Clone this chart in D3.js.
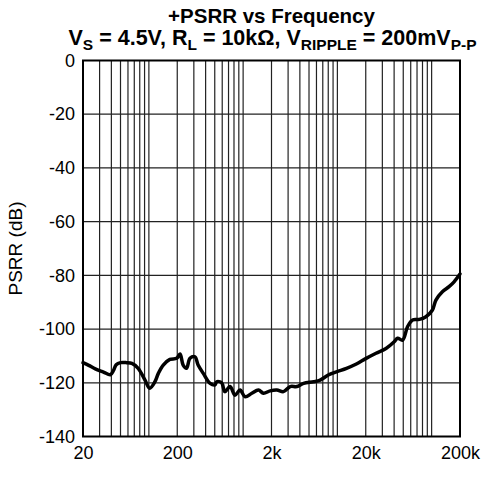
<!DOCTYPE html>
<html>
<head>
<meta charset="utf-8">
<script src="https://cdn.jsdelivr.net/npm/d3@7"></script>
<style>
  body { margin: 0; background: #fff; }
  svg text { font-family: "Liberation Sans", Arial, sans-serif; }
</style>
</head>
<body>
<script>
// values
const freqs = [20, 23, 27, 33, 39, 42, 45, 50, 58, 66, 77, 91, 102, 116, 126, 142, 167, 197, 214, 231,
  251, 273, 308, 333, 378, 446, 503, 524, 591, 640, 727, 820, 927, 1050, 1236, 1453, 1643, 1936, 2280,
  2680, 3160, 3720, 4380, 5610, 6560, 8000, 9800, 12500, 15900, 20200, 25700, 32800, 40100, 43500,
  49200, 55600, 62800, 74000, 87000, 102000, 111000, 130000, 153000, 173000, 200000];
const psrr = [-112.5, -113.5, -114.8, -116, -117, -115.5, -113.3, -112.5, -112.5, -112.8, -114.6, -119,
  -122, -119.6, -116.5, -113.4, -111.3, -110.9, -109.3, -113.4, -114.6, -110.9, -110.3, -113.4, -116.5,
  -120.2, -120.8, -119.6, -120, -123.3, -121.4, -124.6, -122.7, -125.2, -123.9, -122.7, -123.9, -123,
  -122.7, -123.3, -121.4, -121.4, -120.2, -119.6, -119, -117.1, -115.9, -114.6, -113, -110.9, -109,
  -107.2, -104.7, -103.4, -104.1, -99.1, -96.6, -96.4, -95.4, -92.9, -89.2, -86.1, -84.2, -82.4, -79.5];

const xTicks = [20, 200, 2000, 20000, 200000];
const xTickLabels = ["20", "200", "2k", "20k", "200k"];
const yTicks = [0, -20, -40, -60, -80, -100, -120, -140];

let width = 484, height = 491;
let marges = { top: 60.5, right: 24, bottom: 54.5, left: 83 };

let svg = d3.select("body").append("svg")
  .attr("width", width)
  .attr("height", height);

let echelleX = d3.scaleLog()
  .domain([20, 200000])
  .range([marges.left, width - marges.right]);

let echelleY = d3.scaleLinear()
  .domain([-140, 0])
  .range([height - marges.bottom, marges.top]);

// log grid: 2..9 x each decade
let gridX = [];
[10, 100, 1000, 10000, 100000].forEach(function(dec) {
  for (let k = 1; k <= 10; k++) {
    let f = dec * k;
    if (f > 20 && f < 200000) gridX.push(f);
  }
});
gridX = Array.from(new Set(gridX));

svg.append("g").selectAll("line").data(gridX).enter()
  .append("line")
  .attr("x1", d => echelleX(d)).attr("x2", d => echelleX(d))
  .attr("y1", marges.top).attr("y2", height - marges.bottom)
  .attr("stroke", "#222").attr("stroke-width", 1.2);

svg.append("g").selectAll("line").data(yTicks).enter()
  .append("line")
  .attr("x1", marges.left).attr("x2", width - marges.right)
  .attr("y1", d => echelleY(d)).attr("y2", d => echelleY(d))
  .attr("stroke", "#222").attr("stroke-width", 1.2);

// frame
svg.append("rect")
  .attr("x", marges.left).attr("y", marges.top)
  .attr("width", width - marges.left - marges.right)
  .attr("height", height - marges.top - marges.bottom)
  .attr("fill", "none").attr("stroke", "#000").attr("stroke-width", 2);

// axes (only labels, the grid does the rest)
let axeX = d3.axisBottom(echelleX)
  .tickValues(xTicks)
  .tickFormat((d, i) => xTickLabels[i])
  .tickSize(0).tickPadding(10);

svg.append("g")
  .attr("transform", "translate(0," + (height - marges.bottom) + ")")
  .call(axeX)
  .call(g => g.select(".domain").remove())
  .selectAll("text")
  .attr("font-size", 18).attr("fill", "#000")
  .style("font-family", "'Liberation Sans', Arial, sans-serif");

// plain hyphen like the reference, not the unicode minus
let axeY = d3.axisLeft(echelleY)
  .tickValues(yTicks)
  .tickFormat(d => String(d))
  .tickSize(0).tickPadding(8);

svg.append("g")
  .attr("transform", "translate(" + marges.left + ",0)")
  .call(axeY)
  .call(g => g.select(".domain").remove())
  .selectAll("text")
  .attr("font-size", 18).attr("fill", "#000")
  .style("font-family", "'Liberation Sans', Arial, sans-serif");

// the curve
let data = freqs.map((f, i) => ({ f: f, v: psrr[i] }));
let ligne = d3.line()
  .x(d => echelleX(d.f))
  .y(d => echelleY(d.v))
  .curve(d3.curveCatmullRom);

svg.append("path")
  .datum(data)
  .attr("d", ligne)
  .attr("fill", "none")
  .attr("stroke", "#000")
  .attr("stroke-width", 3.5)
  .attr("stroke-linejoin", "round")
  .attr("stroke-linecap", "round");

// titles
let cx = (marges.left + width - marges.right) / 2;
svg.append("text")
  .attr("x", cx).attr("y", 23)
  .attr("text-anchor", "middle")
  .attr("font-size", 20.5).attr("font-weight", "bold")
  .text("+PSRR vs Frequency");

let t2 = svg.append("text")
  .attr("x", cx + 1).attr("y", 45)
  .attr("text-anchor", "middle")
  .attr("font-size", 21).attr("font-weight", "bold");

// [text, is subscript]
const morceaux = [["V", false], ["S", true], [" = 4.5V, R", false], ["L", true],
  [" = 10kΩ, V", false], ["RIPPLE", true], [" = 200mV", false], ["P-P", true]];
morceaux.forEach(function(m, i) {
  let prev = i > 0 ? morceaux[i - 1][1] : false;
  let dy = m[1] && !prev ? 5 : (!m[1] && prev ? -5 : 0);
  t2.append("tspan")
    .attr("dy", dy)
    .attr("font-size", m[1] ? 15.5 : 21.5)
    .text(m[0]);
});

svg.append("text")
  .attr("transform", "translate(22," + ((marges.top + height - marges.bottom) / 2) + ") rotate(-90)")
  .attr("text-anchor", "middle")
  .attr("font-size", 19)
  .text("PSRR (dB)");

// x title, mostly cut off by the bottom edge in the reference
svg.append("text")
  .attr("x", cx).attr("y", 504)
  .attr("text-anchor", "middle")
  .attr("font-size", 19)
  .attr("fill", "#bbb")
  .text("Frequency (Hz)");
</script>
</body>
</html>
